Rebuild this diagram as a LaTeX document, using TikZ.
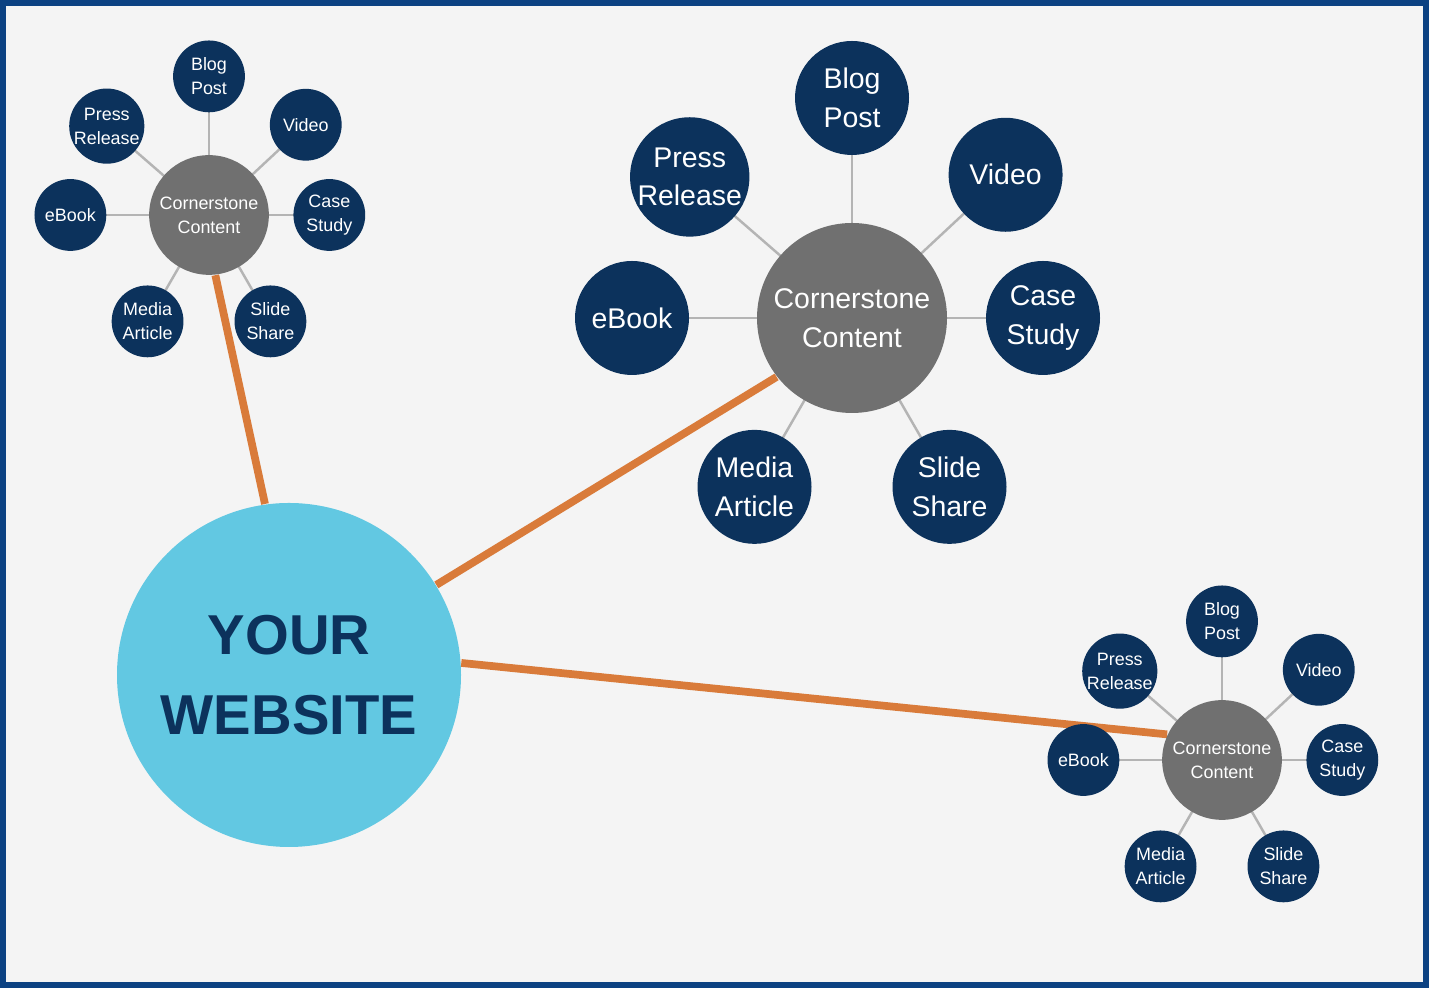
\documentclass[tikz,border=0pt]{standalone}
\usepackage{fontspec}
\setmainfont{Liberation Sans}
\usetikzlibrary{positioning,backgrounds,calc}
\definecolor{framenavy}{RGB}{12,66,130}
\definecolor{bgray}{RGB}{244,244,244}
\definecolor{dotnavy}{RGB}{12,50,92}
\definecolor{hubgray}{RGB}{112,112,112}
\definecolor{siteblue}{RGB}{98,200,226}
\definecolor{linkorange}{RGB}{217,123,58}
\definecolor{spokegray}{RGB}{180,180,180}

\tikzset{
  sat/.style={circle, fill=dotnavy, text=white, align=center, inner sep=0pt},
  hub/.style={circle, fill=hubgray, text=white, align=center, inner sep=0pt},
  spoke/.style={spokegray, line width=0.7pt},
  link/.style={linkorange, line width=2.2pt}
}

% #1 prefix, #2 centre, #3 size factor, #4 font size, #5 leading
\newcommand{\cluster}[5]{%
  \node[hub, minimum size=#3*1.9cm, font=\fontsize{#4}{#5}\selectfont] (#1hub) at (#2) {Cornerstone\\Content};
  \foreach \nm/\ang/\dst/\txt in {blog/90/2.2/Blog\\Post, press/139/2.15/Press\\Release,
      video/43/2.1/Video, ebook/180/2.2/eBook, case/0/1.91/Case\\Study,
      media/240/1.95/Media\\Article, slide/300/1.95/Slide\\Share}{
    \node[sat, minimum size=#3*1.14cm, font=\fontsize{#4}{#5}\selectfont] (#1\nm) at ($(#2)+(\ang:#3*\dst)$) {\txt};
    \begin{scope}[on background layer]
      \draw[spoke] (#1hub.center) -- (#1\nm.center);
    \end{scope}
  }
}

\begin{document}
\begin{tikzpicture}
  \begin{scope}[on background layer]
    \fill[framenavy] (0,0) rectangle (14.29,9.88);
    \fill[bgray] (0.06,0.06) rectangle (14.23,9.82);
  \end{scope}

  % clusters
  \cluster{big}{8.52,6.70}{1}{8.1}{11}
  \cluster{tl}{2.09,7.73}{0.63}{5.1}{6.8}
  \cluster{br}{12.22,2.28}{0.63}{5.1}{6.8}

  % website
  \node[circle, fill=siteblue, minimum size=3.44cm, text=dotnavy, align=center,
        font=\fontsize{16}{22.7}\selectfont\bfseries] (site) at (2.89,3.13) {YOUR\\WEBSITE};

  % links
  \begin{scope}[on background layer]
    \draw[link] (site.98) -- (tlhub.276);
    \draw[link] (site) -- (bighub.218);
    \draw[link] (site.4) -- (brhub.155);
  \end{scope}
\end{tikzpicture}
\end{document}
